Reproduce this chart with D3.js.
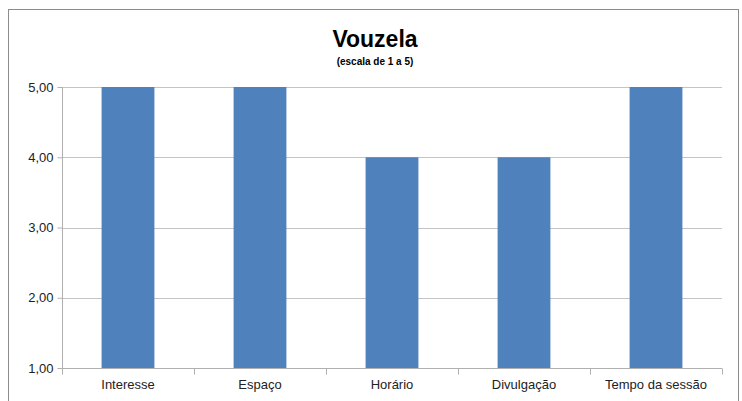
<!DOCTYPE html>
<html><head><meta charset="utf-8">
<script src="https://cdn.jsdelivr.net/npm/d3@7"></script>
<style>
html,body{margin:0;padding:0;background:#fff;}
svg{display:block;font-family:"Liberation Sans Narrow","Liberation Sans",Arial,sans-serif;}
</style></head>
<body>
<svg id="chart" width="742" height="401"></svg>
<script>
const categories = ["Interesse", "Espaço", "Horário", "Divulgação", "Tempo da sessão"];
const values = [5, 5, 4, 4, 5];
const yTicks = [1, 2, 3, 4, 5];
const title = "Vouzela";
const subtitle = "(escala de 1 a 5)";

const svg = d3.select("#chart");
const W = 742, H = 401;
const m = {left: 62, right: 20, top: 87, bottom: 33};

// frame
svg.append("rect").attr("x", 8.5).attr("y", 9.5).attr("width", 730).attr("height", 400)
  .attr("fill", "#fff").attr("stroke", "#8c8c8c").attr("stroke-width", 1);

const x = d3.scaleBand().domain(categories).range([m.left, W - m.right]).paddingInner(0.6).paddingOuter(0.3);
const y = d3.scaleLinear().domain([1, 5]).range([H - m.bottom, m.top]);

// gridlines
svg.append("g").selectAll("line").data(yTicks.filter(d => d > 1)).join("line")
  .attr("x1", m.left).attr("x2", W - m.right)
  .attr("y1", d => Math.round(y(d)) + 0.5).attr("y2", d => Math.round(y(d)) + 0.5)
  .attr("stroke", "#c4c4c4").attr("stroke-width", 1);

// bars
svg.append("g").selectAll("rect").data(categories).join("rect")
  .attr("x", d => x(d)).attr("width", x.bandwidth())
  .attr("y", (d, i) => y(values[i])).attr("height", (d, i) => y(1) - y(values[i]))
  .attr("fill", "#4f81bd");

// y axis
const yAxis = d3.axisLeft(y).tickValues(yTicks).tickSize(5).tickPadding(4)
  .tickFormat(d => d3.format(".2f")(d).replace(".", ","));
const gy = svg.append("g").attr("transform", `translate(${m.left + 0.5},0)`).call(yAxis);
gy.select(".domain").attr("stroke", "#b0b0b0").attr("d", `M0,${y(5)}V${y(1)}`);
gy.selectAll(".tick line").attr("stroke", "#b0b0b0");
gy.selectAll(".tick text").attr("font-size", 13).attr("fill", "#222").style("font-family", "inherit");

// x axis
const xAxis = d3.axisBottom(x).tickSize(0).tickPadding(11);
const gx = svg.append("g").attr("transform", `translate(0,${Math.round(y(1)) + 0.5})`).call(xAxis);
gx.select(".domain").attr("stroke", "#b0b0b0").attr("d", `M${m.left},0H${W - m.right}`);
gx.selectAll(".tick text").attr("font-size", 13).attr("fill", "#222").style("font-family", "inherit");
// category separator ticks
const bounds = d3.range(categories.length + 1).map(i => m.left + i * (W - m.right - m.left) / categories.length);
gx.append("g").selectAll("line").data(bounds).join("line")
  .attr("x1", d => Math.round(d) + 0.5).attr("x2", d => Math.round(d) + 0.5)
  .attr("y1", 0).attr("y2", 6).attr("stroke", "#b0b0b0");

// title
svg.append("text").attr("x", 375).attr("y", 47).attr("text-anchor", "middle")
  .attr("font-size", 23).attr("font-weight", "bold").attr("fill", "#000").text(title);
svg.append("text").attr("x", 375).attr("y", 65).attr("text-anchor", "middle")
  .attr("font-size", 10).attr("font-weight", "bold").attr("fill", "#000").text(subtitle);
</script>
</body></html>
